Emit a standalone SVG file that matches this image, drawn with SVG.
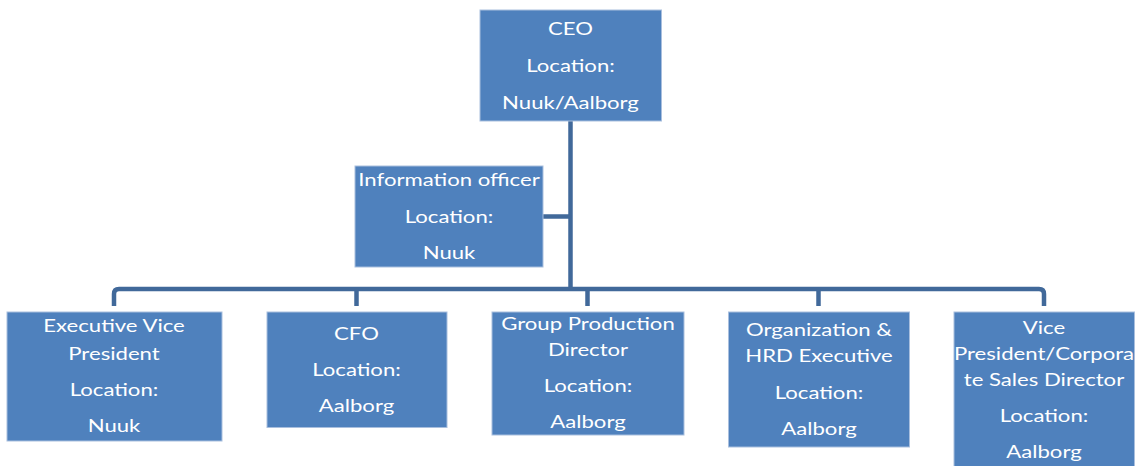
<svg xmlns="http://www.w3.org/2000/svg" width="1138" height="466" viewBox="0 0 1138 466">
<style>
.box{fill:#4F81BD;stroke:#A9BFDE;stroke-width:1}
.lbl{fill:#FFFFFF;font-family:Lato,"Open Sans",sans-serif;font-size:18px;text-anchor:middle}
.conn{fill:none;stroke:#41699A;stroke-width:4.5}
</style>
<rect width="1138" height="466" fill="#FFFFFF"/>
<g id="connectors">
<path class="conn" d="M570.5,121 V289"/>
<path class="conn" d="M543,216.5 H570.5"/>
<path class="conn" d="M114,306 V294 Q114,289 119,289 H1039 Q1044,289 1044,294 V306"/>
<path class="conn" d="M356.5,289 V306"/>
<path class="conn" d="M587.5,289 V306"/>
<path class="conn" d="M818.5,289 V306"/>
</g>
<g id="ceo">
<rect class="box" x="480" y="10" width="181.5" height="111"/>
<g transform="translate(570.5 0) scale(1.23 1)">
<text class="lbl" x="0" y="35">CEO</text>
<text class="lbl" x="0" y="72.5">Location:</text>
<text class="lbl" x="0" y="109.5">Nuuk/Aalborg</text>
</g>
</g>
<g id="info-officer">
<rect class="box" x="355" y="166" width="188" height="101"/>
<g transform="translate(449 0) scale(1.23 1)">
<text class="lbl" x="0" y="186">Information officer</text>
<text class="lbl" x="0" y="223">Location:</text>
<text class="lbl" x="0" y="259.5">Nuuk</text>
</g>
</g>
<g id="evp">
<rect class="box" x="7" y="312" width="215" height="129"/>
<g transform="translate(114 0) scale(1.23 1)">
<text class="lbl" x="0" y="332.5">Executive Vice</text>
<text class="lbl" x="0" y="360">President</text>
<text class="lbl" x="0" y="396">Location:</text>
<text class="lbl" x="0" y="432.5">Nuuk</text>
</g>
</g>
<g id="cfo">
<rect class="box" x="267" y="312" width="180" height="115.5"/>
<g transform="translate(356.5 0) scale(1.23 1)">
<text class="lbl" x="0" y="340">CFO</text>
<text class="lbl" x="0" y="376.5">Location:</text>
<text class="lbl" x="0" y="412.5">Aalborg</text>
</g>
</g>
<g id="group-production-director">
<rect class="box" x="492" y="312" width="192" height="123"/>
<g transform="translate(588 0) scale(1.23 1)">
<text class="lbl" x="0" y="330">Group Production</text>
<text class="lbl" x="0" y="356.5">Director</text>
<text class="lbl" x="0" y="392.5">Location:</text>
<text class="lbl" x="0" y="428.5">Aalborg</text>
</g>
</g>
<g id="org-hrd">
<rect class="box" x="728.5" y="312" width="181" height="135"/>
<g transform="translate(819 0) scale(1.23 1)">
<text class="lbl" x="0" y="336">Organization &amp;</text>
<text class="lbl" x="0" y="362.5">HRD Executive</text>
<text class="lbl" x="0" y="399">Location:</text>
<text class="lbl" x="0" y="435">Aalborg</text>
</g>
</g>
<g id="vp-sales">
<rect class="box" x="954" y="312" width="180.5" height="160"/>
<g transform="translate(1044 0) scale(1.23 1)">
<text class="lbl" x="0" y="334">Vice</text>
<text class="lbl" x="0" y="360">President/Corpora</text>
<text class="lbl" x="0" y="386.5">te Sales Director</text>
<text class="lbl" x="0" y="422.5">Location:</text>
<text class="lbl" x="0" y="458.5">Aalborg</text>
</g>
</g>
</svg>
